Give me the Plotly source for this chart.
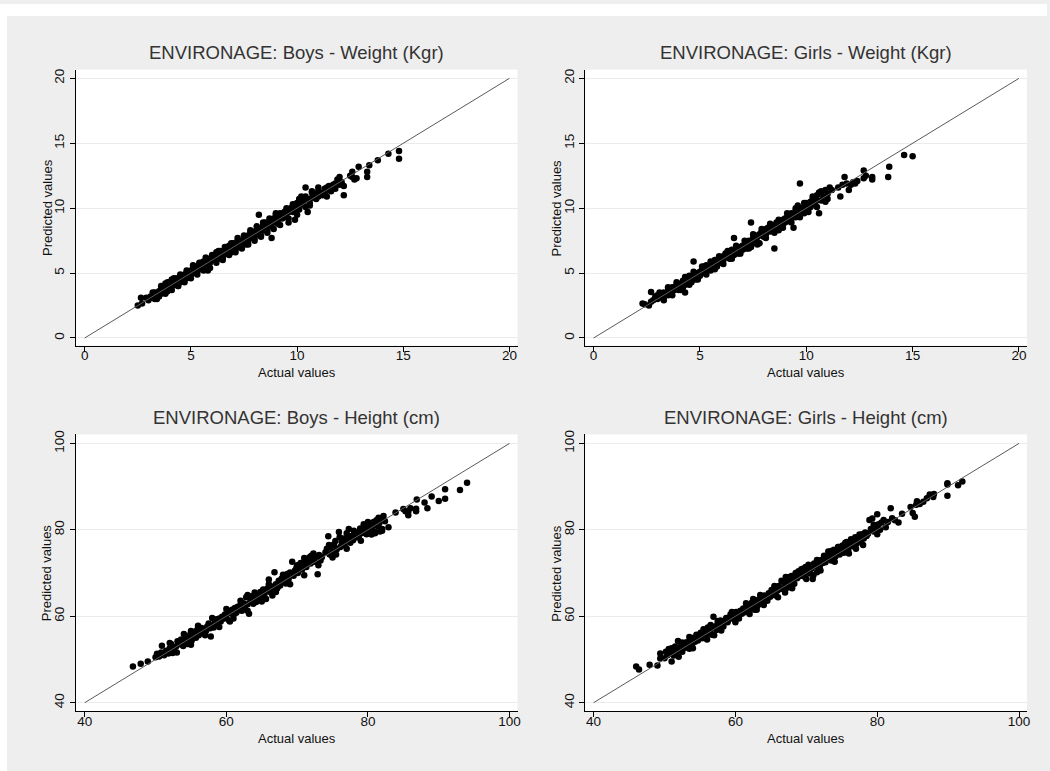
import plotly.graph_objects as go

# ---------------- data ----------------
boys_w_actual = [
    2.5, 2.7, 2.65, 2.9, 3.0, 3.1, 3.2, 3.3, 3.3, 3.4,
    3.5, 3.5, 3.6, 3.6, 3.7, 3.7, 3.8, 3.8, 3.9, 3.9,
    4.0, 4.0, 4.1, 4.1, 4.2, 4.2, 4.3, 4.3, 4.4, 4.4,
    4.5, 4.5, 4.6, 4.6, 4.7, 4.7, 4.8, 4.8, 4.9, 4.9,
    5.0, 5.0, 5.1, 5.1, 5.2, 5.2, 5.3, 5.3, 5.4, 5.4,
    5.5, 5.5, 5.6, 5.6, 5.7, 5.8, 5.8, 5.9, 5.9, 6.0,
    6.0, 6.1, 6.1, 6.2, 6.2, 6.3, 6.3, 6.4, 6.4, 6.5,
    6.5, 6.6, 6.6, 6.7, 6.7, 6.8, 6.8, 6.9, 6.9, 7.0,
    7.0, 7.1, 7.1, 7.2, 7.2, 7.3, 7.3, 7.4, 7.4, 7.5,
    7.5, 7.6, 7.6, 7.7, 7.7, 7.8, 7.8, 7.9, 7.9, 8.0,
    8.0, 8.1, 8.1, 8.2, 8.2, 8.3, 8.3, 8.4, 8.4, 8.5,
    8.5, 8.6, 8.6, 8.7, 8.7, 8.8, 8.8, 8.9, 8.9, 9.0,
    9.0, 9.1, 9.1, 9.2, 9.2, 9.3, 9.3, 9.4, 9.4, 9.5,
    9.5, 9.6, 9.6, 9.7, 9.7, 9.8, 9.8, 9.9, 9.9, 10.0,
    10.0, 10.1, 10.1, 10.2, 10.2, 10.3, 10.3, 10.4, 10.4, 10.5,
    10.5, 10.6, 10.7, 10.7, 10.8, 10.9, 10.9, 11.0, 11.0, 11.1,
    11.2, 11.3, 11.3, 11.4, 11.5, 11.5, 11.6, 11.7, 11.7, 11.8,
    11.8, 11.9, 12.0, 12.0, 12.1, 12.2, 12.2, 12.5, 12.6, 12.7,
    12.8, 12.9, 13.3, 13.3, 13.4, 13.8, 14.3, 14.8, 14.8, 12.6,
    3.2, 3.6, 3.9, 4.2, 4.5, 4.8, 5.1, 5.4, 5.7, 6.0,
    6.3, 6.6, 6.9, 7.2, 7.5, 7.8, 8.1, 8.4, 8.7, 9.0,
    3.4, 3.8, 4.1, 4.4, 4.7, 5.0, 5.3, 5.6, 5.9, 6.2,
    6.5, 6.8, 7.1, 7.4, 7.7, 8.0, 8.3, 8.6, 8.9, 9.2,
    9.5, 9.8, 10.1, 10.4, 10.7, 11.0, 9.6, 10.0, 10.6, 11.4,
]
boys_w_pred = [
    2.5, 2.65, 3.1, 3.1, 2.9, 3.2, 3.1, 3.0, 3.5, 3.3,
    3.6, 3.2, 3.4, 3.8, 3.5, 3.9, 3.7, 4.2, 3.6, 4.0,
    4.3, 3.8, 4.0, 4.5, 4.1, 4.4, 4.2, 4.6, 4.3, 4.0,
    4.6, 4.3, 4.4, 4.8, 4.9, 4.5, 4.6, 5.0, 4.8, 5.1,
    4.9, 5.2, 5.0, 5.3, 5.2, 5.5, 5.1, 5.4, 5.3, 5.7,
    5.4, 5.8, 5.5, 5.9, 5.7, 5.2, 5.9, 5.8, 6.1, 6.0,
    6.3, 6.0, 6.4, 6.2, 6.6, 6.3, 6.1, 6.5, 6.7, 6.4,
    6.2, 6.6, 6.8, 6.5, 6.9, 6.7, 7.1, 6.9, 6.6, 7.0,
    7.3, 7.1, 6.8, 7.2, 7.5, 7.0, 7.4, 7.5, 7.2, 7.4,
    7.8, 7.6, 7.2, 7.9, 7.5, 7.7, 8.1, 7.8, 8.2, 8.0,
    7.7, 8.3, 8.0, 8.1, 9.5, 8.4, 7.9, 8.3, 8.7, 8.5,
    8.9, 8.6, 8.3, 8.8, 9.0, 8.6, 7.7, 8.9, 9.2, 9.0,
    9.6, 9.1, 8.8, 9.3, 9.6, 9.2, 9.5, 9.4, 9.7, 9.6,
    9.3, 9.7, 8.9, 9.8, 10.0, 9.7, 10.1, 9.9, 9.1, 10.1,
    10.4, 10.2, 9.9, 10.3, 10.9, 10.3, 10.6, 11.6, 10.1, 9.7,
    10.7, 10.4, 10.8, 11.2, 11.0, 10.7, 11.1, 11.3, 10.9, 11.2,
    11.0, 11.5, 11.1, 11.6, 11.4, 11.7, 11.3, 11.6, 11.8, 11.9,
    11.5, 12.2, 12.4, 11.8, 12.0, 11.0, 11.7, 12.5, 12.8, 12.2,
    12.3, 13.2, 12.8, 12.4, 13.3, 13.7, 14.2, 14.4, 13.8, 12.4,
    3.5, 4.0, 4.3, 4.6, 4.9, 5.2, 5.6, 5.8, 6.2, 6.4,
    6.7, 7.0, 7.3, 7.7, 7.9, 8.3, 8.6, 8.9, 9.2, 9.5,
    3.0, 3.4, 3.7, 4.0, 4.3, 4.6, 4.9, 5.2, 5.4, 5.8,
    6.0, 6.4, 6.6, 6.9, 7.2, 7.5, 7.8, 8.1, 8.4, 8.7,
    10.0, 10.3, 10.7, 10.9, 11.3, 11.6, 9.2, 9.5, 10.2, 10.9,
]

girls_w_actual = [
    2.3, 2.4, 2.6, 2.7, 2.7, 2.8, 2.9, 3.0, 3.0, 3.1,
    3.2, 3.3, 3.3, 3.4, 3.5, 3.5, 3.6, 3.7, 3.7, 3.8,
    3.9, 3.9, 4.0, 4.0, 4.1, 4.2, 4.2, 4.3, 4.3, 4.4,
    4.4, 4.5, 4.5, 4.6, 4.6, 4.7, 4.7, 4.8, 4.8, 4.9,
    4.9, 5.0, 5.0, 5.1, 5.2, 5.2, 5.3, 5.3, 5.4, 5.5,
    5.5, 5.6, 5.7, 5.7, 5.8, 5.8, 5.9, 6.0, 6.0, 6.1,
    6.1, 6.2, 6.2, 6.3, 6.4, 6.4, 6.5, 6.5, 6.6, 6.6,
    6.7, 6.7, 6.8, 6.8, 6.9, 7.0, 7.0, 7.1, 7.2, 7.2,
    7.3, 7.3, 7.4, 7.4, 7.5, 7.5, 7.6, 7.6, 7.7, 7.7,
    7.8, 7.8, 7.9, 7.9, 8.0, 8.0, 8.1, 8.1, 8.2, 8.2,
    8.3, 8.3, 8.4, 8.5, 8.5, 8.6, 8.6, 8.7, 8.7, 8.8,
    8.8, 8.9, 8.9, 9.0, 9.0, 9.1, 9.2, 9.2, 9.3, 9.3,
    9.4, 9.4, 9.5, 9.5, 9.6, 9.6, 9.7, 9.7, 9.8, 9.8,
    9.9, 9.9, 10.0, 10.0, 10.1, 10.2, 10.2, 10.3, 10.4, 10.4,
    10.5, 10.5, 10.6, 10.6, 10.7, 10.7, 10.8, 10.9, 11.0, 11.0,
    11.1, 11.2, 11.5, 11.6, 11.7, 11.8, 11.9, 12.0, 12.1, 12.2,
    12.3, 12.4, 12.7, 12.7, 12.8, 13.1, 13.1, 13.85, 13.9, 14.6,
    15.0, 10.3,
    3.1, 3.5, 3.9, 4.3, 4.7, 5.1, 5.5, 5.9, 6.3, 6.7,
    7.1, 7.5, 7.9, 8.3, 8.7, 9.1, 9.5, 9.9, 10.3, 10.7,
    3.3, 3.7, 4.1, 4.5, 4.9, 5.3, 5.7, 6.1, 6.5, 6.9,
    7.3, 7.7, 8.1, 8.5, 8.9, 9.3, 9.7, 10.1, 10.5, 10.9,
]
girls_w_pred = [
    2.65, 2.6, 2.5, 3.55, 2.8, 2.9, 3.2, 3.0, 3.3, 3.1,
    3.3, 3.1, 3.5, 3.4, 3.6, 3.3, 3.5, 3.9, 3.6, 3.7,
    3.8, 4.1, 3.7, 4.0, 4.2, 3.9, 4.4, 4.1, 3.5, 4.5,
    4.2, 4.8, 4.4, 4.6, 4.3, 5.9, 4.7, 4.9, 4.5, 5.0,
    4.7, 5.1, 4.8, 5.3, 5.0, 5.5, 5.2, 5.6, 5.4, 5.5,
    5.2, 5.7, 5.6, 6.0, 5.8, 5.5, 6.2, 6.0, 5.8, 6.3,
    6.0, 6.5, 6.2, 6.4, 6.1, 6.7, 6.5, 6.8, 6.4, 7.7,
    6.9, 6.6, 6.8, 6.5, 7.0, 6.8, 7.1, 6.9, 7.3, 6.9,
    7.2, 7.5, 8.9, 7.0, 7.7, 7.3, 7.5, 7.9, 7.4, 7.8,
    8.0, 7.3, 7.9, 8.2, 8.1, 7.8, 8.4, 8.0, 8.3, 8.5,
    8.2, 8.6, 8.4, 6.9, 8.7, 8.5, 8.9, 8.6, 8.3, 9.0,
    8.7, 9.1, 8.8, 9.2, 8.9, 9.3, 9.0, 9.4, 9.2, 9.6,
    9.5, 8.5, 9.8, 9.3, 9.7, 10.2, 11.9, 9.8, 10.0, 9.7,
    10.1, 9.6, 10.4, 10.0, 10.2, 10.5, 10.1, 10.3, 10.8, 10.4,
    10.6, 11.0, 9.6, 11.2, 10.6, 11.3, 10.9, 11.4, 11.1, 10.7,
    11.6, 11.4, 11.6, 10.9, 11.8, 12.4, 11.9, 11.4, 11.8, 12.0,
    11.9, 12.1, 12.9, 12.3, 12.5, 12.4, 12.2, 12.4, 13.2, 14.1,
    14.0, 10.7,
    3.5, 3.9, 4.3, 4.7, 5.1, 5.5, 5.9, 6.3, 6.7, 7.1,
    7.5, 8.0, 8.4, 8.8, 9.1, 9.6, 10.0, 10.4, 10.9, 11.2,
    2.9, 3.3, 3.7, 4.1, 4.5, 4.9, 5.3, 5.7, 6.1, 6.5,
    6.9, 7.2, 7.7, 8.1, 8.5, 8.9, 9.3, 9.7, 10.1, 10.5,
]

boys_h_actual = [
    46.8, 47.9, 48.9, 50.0, 50.2, 50.5, 50.8, 50.9, 51.2, 51.5,
    51.8, 52.0, 52.2, 52.4, 52.6, 52.9, 53.1, 53.4, 53.6, 53.9,
    54.1, 54.3, 54.5, 54.7, 54.9, 55.1, 55.3, 55.5, 55.7, 55.9,
    56.1, 56.3, 56.5, 56.7, 56.9, 57.1, 57.3, 57.5, 57.7, 57.8,
    58.0, 58.2, 58.4, 58.6, 58.8, 59.0, 59.2, 59.4, 59.6, 59.8,
    60.0, 60.2, 60.4, 60.6, 60.8, 61.0, 61.2, 61.4, 61.6, 61.8,
    62.0, 62.2, 62.4, 62.6, 62.8, 63.0, 63.2, 63.4, 63.6, 63.8,
    64.0, 64.2, 64.4, 64.6, 64.8, 65.0, 65.2, 65.4, 65.6, 65.8,
    66.0, 66.2, 66.4, 66.6, 66.8, 67.0, 67.2, 67.4, 67.6, 67.8,
    68.0, 68.2, 68.4, 68.6, 68.8, 69.0, 69.3, 69.5, 69.7, 69.9,
    70.1, 70.3, 70.5, 70.7, 70.9, 71.1, 71.3, 71.5, 71.7, 71.9,
    72.1, 72.3, 72.5, 72.7, 72.9, 73.1, 73.3, 73.5, 74.0, 74.2,
    74.4, 74.6, 74.8, 75.0, 75.2, 75.4, 75.6, 75.9, 76.1, 76.3,
    76.5, 76.7, 76.9, 77.1, 77.3, 77.5, 77.7, 77.9, 78.1, 78.3,
    78.5, 78.7, 78.9, 79.1, 79.4, 79.6, 79.8, 80.0, 80.2, 80.4,
    80.6, 80.8, 81.0, 81.2, 81.4, 81.6, 81.8, 82.0, 82.2, 82.9,
    83.9, 85.0, 85.3, 85.7, 85.7, 86.0, 86.8, 86.8, 86.9, 88.0,
    88.4, 89.0, 90.0, 90.9, 90.9, 93.0, 94.0, 82.4, 79.7, 81.7,
    52.0, 54.0, 56.0, 58.0, 60.0, 62.0, 64.0, 66.0, 68.0, 70.0,
    72.0, 74.5, 76.0, 78.0, 80.0, 81.5, 55.0, 63.0, 71.0, 77.0,
    53.0, 55.0, 57.0, 59.0, 61.0, 63.0, 65.0, 67.0, 69.0, 71.0,
    73.0, 75.0, 77.0, 79.0, 81.0, 82.0, 60.5, 66.5, 75.5, 80.5,
]
boys_h_pred = [
    48.4, 49.0, 49.5, 50.5, 51.3, 50.7, 51.6, 53.2, 51.0, 52.0,
    51.4, 52.6, 53.6, 51.5, 52.3, 53.0, 54.2, 53.5, 54.6, 53.1,
    54.5, 55.1, 53.6, 54.8, 55.8, 54.4, 55.2, 56.4, 55.0, 56.9,
    55.6, 56.8, 57.3, 56.2, 57.0, 56.5, 57.6, 58.3, 57.2, 55.3,
    58.0, 57.4, 58.6, 59.3, 58.2, 59.5, 58.8, 59.9, 59.4, 60.4,
    59.6, 61.0, 59.0, 60.7, 61.5, 60.3, 61.9, 60.8, 62.2, 61.4,
    62.6, 61.3, 63.0, 62.1, 64.4, 62.8, 60.6, 63.5, 64.6, 62.9,
    64.2, 63.3, 65.0, 64.1, 65.6, 64.7, 66.2, 65.2, 64.0, 66.4,
    68.5, 65.6, 66.9, 66.0, 70.2, 67.4, 66.5, 68.2, 67.1, 68.7,
    68.0, 69.2, 67.6, 69.8, 68.6, 70.1, 72.6, 69.4, 70.6, 71.2,
    70.0, 71.6, 72.3, 70.8, 72.0, 73.0, 71.4, 72.8, 73.6, 72.2,
    73.1, 74.5, 72.6, 73.8, 69.7, 74.2, 72.9, 73.7, 74.8, 75.6,
    78.5, 74.3, 76.2, 75.0, 76.6, 77.4, 75.5, 79.5, 76.0, 77.1,
    78.0, 76.4, 77.6, 78.2, 80.2, 77.0, 78.6, 77.6, 79.0, 78.3,
    79.4, 78.2, 80.3, 79.2, 81.3, 80.0, 79.0, 80.7, 81.4, 79.6,
    80.6, 81.8, 79.5, 82.2, 80.8, 81.5, 82.6, 79.8, 83.2, 80.6,
    84.0, 84.8, 84.3, 84.2, 83.4, 85.0, 84.9, 84.3, 87.0, 86.3,
    85.0, 87.7, 86.7, 89.4, 87.2, 89.2, 90.9, 82.0, 80.2, 79.6,
    53.8, 55.9, 57.8, 59.6, 61.7, 63.6, 65.5, 67.4, 69.6, 71.8,
    74.0, 76.5, 78.3, 79.8, 81.8, 82.8, 56.6, 64.9, 73.5, 79.2,
    51.6, 53.4, 55.6, 57.5, 59.5, 61.3, 63.4, 65.6, 67.4, 69.5,
    71.8, 73.6, 75.6, 77.5, 79.2, 80.2, 58.8, 64.8, 74.3, 78.9,
]

girls_h_actual = [
    46.0, 46.4, 47.9, 49.0, 49.4, 49.4, 50.0, 50.2, 50.4, 50.6,
    50.8, 51.0, 51.0, 51.3, 51.5, 51.7, 51.9, 52.1, 52.3, 52.5,
    52.7, 52.9, 53.1, 53.3, 53.5, 53.7, 53.9, 54.1, 54.3, 54.5,
    54.7, 54.9, 55.1, 55.3, 55.5, 55.7, 55.9, 56.1, 56.3, 56.5,
    56.7, 56.9, 57.1, 57.3, 57.5, 57.7, 57.9, 58.1, 58.3, 58.5,
    58.7, 58.9, 59.1, 59.3, 59.5, 59.7, 59.9, 60.1, 60.3, 60.5,
    60.7, 60.9, 61.1, 61.3, 61.5, 61.7, 61.9, 62.1, 62.3, 62.5,
    62.7, 62.9, 63.1, 63.3, 63.5, 63.7, 63.9, 64.1, 64.3, 64.5,
    64.7, 64.9, 65.1, 65.3, 65.5, 65.7, 65.9, 66.1, 66.3, 66.5,
    66.7, 66.9, 67.1, 67.3, 67.5, 67.7, 67.9, 68.1, 68.3, 68.5,
    68.7, 68.9, 69.1, 69.3, 69.5, 69.7, 69.9, 70.1, 70.3, 70.5,
    70.7, 70.9, 71.1, 71.3, 71.5, 71.7, 71.9, 72.1, 72.3, 72.5,
    72.7, 72.9, 73.1, 73.3, 73.5, 73.7, 73.9, 74.1, 74.3, 74.5,
    74.7, 74.9, 75.1, 75.3, 75.5, 75.7, 75.9, 76.1, 76.3, 76.5,
    76.7, 76.9, 77.1, 77.3, 77.5, 77.7, 77.9, 78.1, 78.3, 78.5,
    78.7, 78.9, 79.1, 79.3, 79.5, 79.7, 80.0, 80.2, 80.4, 80.6,
    80.9, 81.2, 81.5, 81.9, 82.1, 82.5, 83.0, 83.5, 84.7, 85.0,
    85.3, 85.5, 85.6, 86.0, 86.5, 87.0, 87.4, 87.9, 88.0, 89.9,
    89.9, 89.9, 91.4, 92.0,
    51.5, 53.5, 55.5, 57.5, 59.5, 61.5, 63.5, 65.5, 67.5, 69.5,
    71.5, 73.5, 75.5, 77.5, 79.5, 52.5, 56.5, 62.5, 68.5, 74.5,
    52.0, 54.0, 56.0, 58.0, 60.0, 62.0, 64.0, 66.0, 68.0, 70.0,
    72.0, 74.0, 76.0, 78.0, 80.0, 57.0, 63.0, 67.0, 71.0, 77.0,
]
girls_h_pred = [
    48.4, 47.7, 48.8, 48.6, 51.4, 50.2, 50.3, 51.8, 51.0, 52.4,
    51.4, 49.5, 52.6, 50.9, 52.0, 51.6, 54.3, 52.4, 53.0, 51.8,
    53.6, 52.7, 54.0, 53.2, 52.5, 54.5, 53.6, 55.0, 54.1, 55.7,
    54.4, 55.4, 56.2, 54.9, 55.8, 56.7, 55.3, 57.4, 56.2, 57.0,
    55.7, 59.9, 57.6, 56.8, 58.2, 57.4, 59.0, 58.1, 57.6, 58.9,
    59.6, 58.6, 59.3, 60.4, 59.8, 60.0, 59.2, 61.0, 60.3, 59.5,
    61.3, 60.6, 61.8, 60.9, 62.1, 61.2, 62.6, 61.6, 63.1, 62.2,
    61.5, 63.4, 62.4, 63.9, 62.9, 64.4, 63.3, 64.8, 64.0, 63.6,
    65.3, 64.5, 66.1, 65.0, 66.6, 64.8, 65.9, 67.0, 66.3, 68.2,
    66.4, 67.7, 69.1, 66.6, 68.4, 67.4, 69.3, 68.5, 67.5, 69.8,
    68.8, 70.4, 69.3, 70.9, 70.0, 69.2, 71.4, 70.5, 71.9, 69.9,
    71.0, 68.6, 72.2, 71.5, 70.2, 72.8, 71.6, 73.0, 72.3, 74.0,
    72.5, 73.6, 75.0, 74.0, 72.9, 74.7, 75.4, 73.8, 75.1, 76.0,
    74.3, 75.6, 76.4, 74.7, 76.0, 77.2, 75.3, 76.6, 77.8, 76.2,
    77.4, 78.3, 76.8, 77.9, 78.5, 77.3, 79.0, 78.0, 79.4, 78.6,
    79.1, 82.3, 80.2, 82.6, 79.6, 80.4, 83.6, 81.3, 80.0, 81.7,
    82.3, 80.6, 81.8, 85.0, 82.7, 82.2, 81.7, 83.7, 85.3, 83.9,
    83.0, 85.8, 86.6, 86.0, 86.5, 87.3, 88.2, 87.6, 88.3, 90.8,
    90.5, 87.9, 90.3, 91.2,
    53.0, 55.2, 57.0, 58.9, 61.0, 63.0, 64.9, 67.0, 69.0, 71.0,
    73.0, 75.1, 77.0, 78.9, 81.2, 53.9, 58.0, 64.0, 70.0, 76.0,
    50.6, 52.6, 54.6, 56.7, 58.6, 60.5, 62.6, 64.4, 66.5, 68.6,
    70.6, 72.6, 74.5, 76.5, 79.0, 55.6, 61.5, 65.5, 69.5, 75.6,
]

titles = [
    "ENVIRONAGE: Boys - Weight (Kgr)",
    "ENVIRONAGE: Girls - Weight (Kgr)",
    "ENVIRONAGE: Boys - Height (cm)",
    "ENVIRONAGE: Girls - Height (cm)",
]
x_title = "Actual values"
y_title = "Predicted values"

weight_ticks = [0, 5, 10, 15, 20]
height_ticks = [40, 60, 80, 100]
weight_diag = [0, 20]
height_diag = [40, 100]

# ---------------- layout geometry ----------------
W, H = 1050, 771
FONT = "Arial, Liberation Sans, Helvetica, sans-serif"
BG = "#eeeeee"

panels = [
    dict(x=boys_w_actual, y=boys_w_pred, diag=weight_diag, ticks=weight_ticks,
         xdom=[0.07238, 0.49429], ydom=[0.55474, 0.91440],
         xr=[-0.42, 20.38], yr=[-0.58, 20.67]),
    dict(x=girls_w_actual, y=girls_w_pred, diag=weight_diag, ticks=weight_ticks,
         xdom=[0.55905, 0.98095], ydom=[0.55474, 0.91440],
         xr=[-0.39, 20.38], yr=[-0.58, 20.67]),
    dict(x=boys_h_actual, y=boys_h_pred, diag=height_diag, ticks=height_ticks,
         xdom=[0.07238, 0.49429], ydom=[0.07782, 0.43878],
         xr=[38.73, 101.13], yr=[38.0, 102.07]),
    dict(x=girls_h_actual, y=girls_h_pred, diag=height_diag, ticks=height_ticks,
         xdom=[0.55905, 0.98095], ydom=[0.07782, 0.43878],
         xr=[38.83, 101.13], yr=[38.0, 102.07]),
]

fig = go.Figure()
layout = dict(
    width=W, height=H,
    margin=dict(l=0, r=0, t=0, b=0),
    paper_bgcolor=BG,
    plot_bgcolor="white",
    showlegend=False,
    hovermode=False,
    font=dict(family=FONT, color="#111111", size=13),
)

annotations = []
for i, p in enumerate(panels):
    n = "" if i == 0 else str(i + 1)
    xa, ya = "x" + n, "y" + n
    fig.add_trace(go.Scatter(
        x=p["x"], y=p["y"], mode="markers", xaxis=xa, yaxis=ya,
        marker=dict(color="black", size=6.5, line=dict(width=0)),
        hoverinfo="skip"))
    fig.add_trace(go.Scatter(
        x=p["diag"], y=p["diag"], mode="lines", xaxis=xa, yaxis=ya,
        line=dict(color="#5a5a5a", width=1), hoverinfo="skip"))

    layout["xaxis" + n] = dict(
        domain=p["xdom"], range=p["xr"], anchor=ya,
        tickmode="array", tickvals=p["ticks"],
        ticks="outside", ticklen=5, tickcolor="#000000", tickwidth=1,
        ticklabelstandoff=-8,
        showline=True, linecolor="#000000", linewidth=1, mirror=False,
        showgrid=False, zeroline=False,
        tickfont=dict(family=FONT, size=13.5, color="#111111"),
    )
    layout["yaxis" + n] = dict(
        domain=p["ydom"], range=p["yr"], anchor=xa,
        tickmode="array", tickvals=p["ticks"], tickangle=-90,
        ticks="outside", ticklen=5, tickcolor="#000000", tickwidth=1,
        showline=True, linecolor="#000000", linewidth=1, mirror=False,
        showgrid=True, gridcolor="#ebebeb", gridwidth=1, zeroline=False,
        tickfont=dict(family=FONT, size=13.5, color="#111111"),
    )

    xc = (p["xdom"][0] + p["xdom"][1]) / 2
    top = p["ydom"][1]
    bottom = p["ydom"][0]
    yc = (top + bottom) / 2
    annotations.append(dict(
        text=titles[i], x=xc, y=top + 17 / H, xref="paper", yref="paper",
        xanchor="center", yanchor="middle", showarrow=False,
        font=dict(family=FONT, size=18.5, color="#333333")))
    annotations.append(dict(
        text=x_title, x=xc, y=bottom - 27 / H, xref="paper", yref="paper",
        xanchor="center", yanchor="middle", showarrow=False,
        font=dict(family=FONT, size=13, color="#111111")))
    annotations.append(dict(
        text=y_title, x=p["xdom"][0] - 28.5 / W, y=yc, xref="paper", yref="paper",
        xanchor="center", yanchor="middle", textangle=-90, showarrow=False,
        font=dict(family=FONT, size=13, color="#111111")))

layout["annotations"] = annotations
layout["shapes"] = [
    dict(type="rect", xref="paper", yref="paper", x0=0, x1=1, y0=1 - 12 / H, y1=1,
         fillcolor="white", line=dict(width=0), layer="below"),
    dict(type="rect", xref="paper", yref="paper", x0=0, x1=7 / W, y0=0, y1=1,
         fillcolor="white", line=dict(width=0), layer="below"),
]

fig.update_layout(**layout)
fig.write_html(
    "out.html",
    config={"displayModeBar": False, "staticPlot": True},
    post_script=(
        "document.documentElement.style.background='" + BG + "';"
        "document.body.style.background='" + BG + "';"
        "document.body.style.margin='0';"
        "document.body.style.overflow='hidden';"
        "document.documentElement.style.overflow='hidden';"
    ),
)
